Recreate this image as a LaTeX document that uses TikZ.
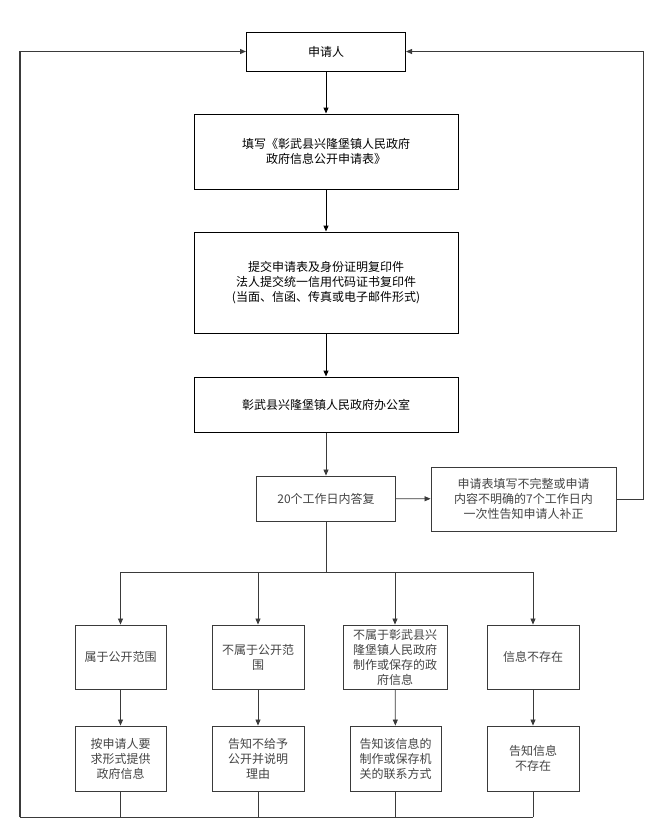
\documentclass[tikz,border=0pt]{standalone}
\usepackage{fontspec}
\newfontfamily\cjk{Noto Sans CJK SC}
\usetikzlibrary{arrows.meta}
\definecolor{linegray}{HTML}{3A3A3A}
\definecolor{textgray}{HTML}{444444}
\begin{document}
\begin{tikzpicture}[x=1pt, y=-1pt,
  >={Triangle[width=5pt,length=6pt]},
  topbox/.style={rectangle, draw=black, line width=1pt, align=center, inner sep=0pt,
    font=\cjk\fontsize{12}{15}\selectfont, text=black},
  lowbox/.style={rectangle, draw=linegray, line width=0.9pt, align=center, inner sep=0pt,
    font=\cjk\fontsize{12}{15}\selectfont, text=textgray},
  flow/.style={->, line width=1pt, black},
  link/.style={line width=0.8pt, linegray}]
\useasboundingbox (0,0) rectangle (667,839);

\draw

(326, 51.5) node[topbox, minimum width=159pt, minimum height=39pt](app){申请人}
(326, 151.5) node[topbox, minimum width=264pt, minimum height=75pt](form){填写《彰武县兴隆堡镇人民政府\\政府信息公开申请表》}
(326, 282.5) node[topbox, minimum width=264pt, minimum height=101pt](submit){提交申请表及身份证明复印件\\法人提交统一信用代码证书复印件\\(当面、信函、传真或电子邮件形式)}
(326, 404.5) node[topbox, minimum width=264pt, minimum height=55pt](office){彰武县兴隆堡镇人民政府办公室}
(326, 498.5) node[lowbox, minimum width=139pt, minimum height=45pt](reply){20个工作日内答复}
(523.5, 499) node[lowbox, minimum width=185pt, minimum height=64pt](fix){申请表填写不完整或申请\\内容不明确的7个工作日内\\一次性告知申请人补正};

\draw
(120.5, 657) node[lowbox, minimum width=91pt, minimum height=64pt](open){属于公开范围}
(258, 657) node[lowbox, minimum width=92pt, minimum height=64pt](notopen){不属于公开范\\围}
(395, 657) node[lowbox, minimum width=104pt, minimum height=64pt](notours){不属于彰武县兴\\隆堡镇人民政府\\制作或保存的政\\府信息}
(533, 657) node[lowbox, minimum width=92pt, minimum height=64pt](none){信息不存在}
(120.5, 758.5) node[lowbox, minimum width=91pt, minimum height=65pt](provide){按申请人要\\求形式提供\\政府信息}
(258, 758.5) node[lowbox, minimum width=92pt, minimum height=65pt](refuse){告知不给予\\公开并说明\\理由}
(395.5, 758.5) node[lowbox, minimum width=91pt, minimum height=65pt](contact){告知该信息的\\制作或保存机\\关的联系方式}
(533, 758.5) node[lowbox, minimum width=92pt, minimum height=65pt](tellnone){告知信息\\不存在};

\coordinate (split) at (326, 572);
\coordinate (rc) at (643, 499);
\coordinate (bl) at (20, 817);

\draw[flow] (app) -- (form);
\draw[flow] (form) -- (submit);
\draw[flow] (submit) -- (office);
\draw[link, ->] (office) -- (reply);
\draw[link, ->] (reply) -- (fix);
\draw[link, ->] (fix) -- (rc) |- (app);

\draw[link, line width=1pt] (reply) -- (split);
\foreach \b in {open, notopen, notours, none}
  \draw[link, ->] (split) -| (\b);

\draw[link, ->] (open) -- (provide);
\draw[link, ->] (notopen) -- (refuse);
\draw[link, ->] (notours) -- (contact);
\draw[link, ->] (none) -- (tellnone);

\foreach \b in {provide, refuse, contact, tellnone}
  \draw[link] (\b) -- (\b.south |- bl);
\draw[link] (tellnone.south |- bl) -- (bl);
\draw[link, line width=1.3pt, ->] (bl) |- (app);

\end{tikzpicture}
\end{document}
